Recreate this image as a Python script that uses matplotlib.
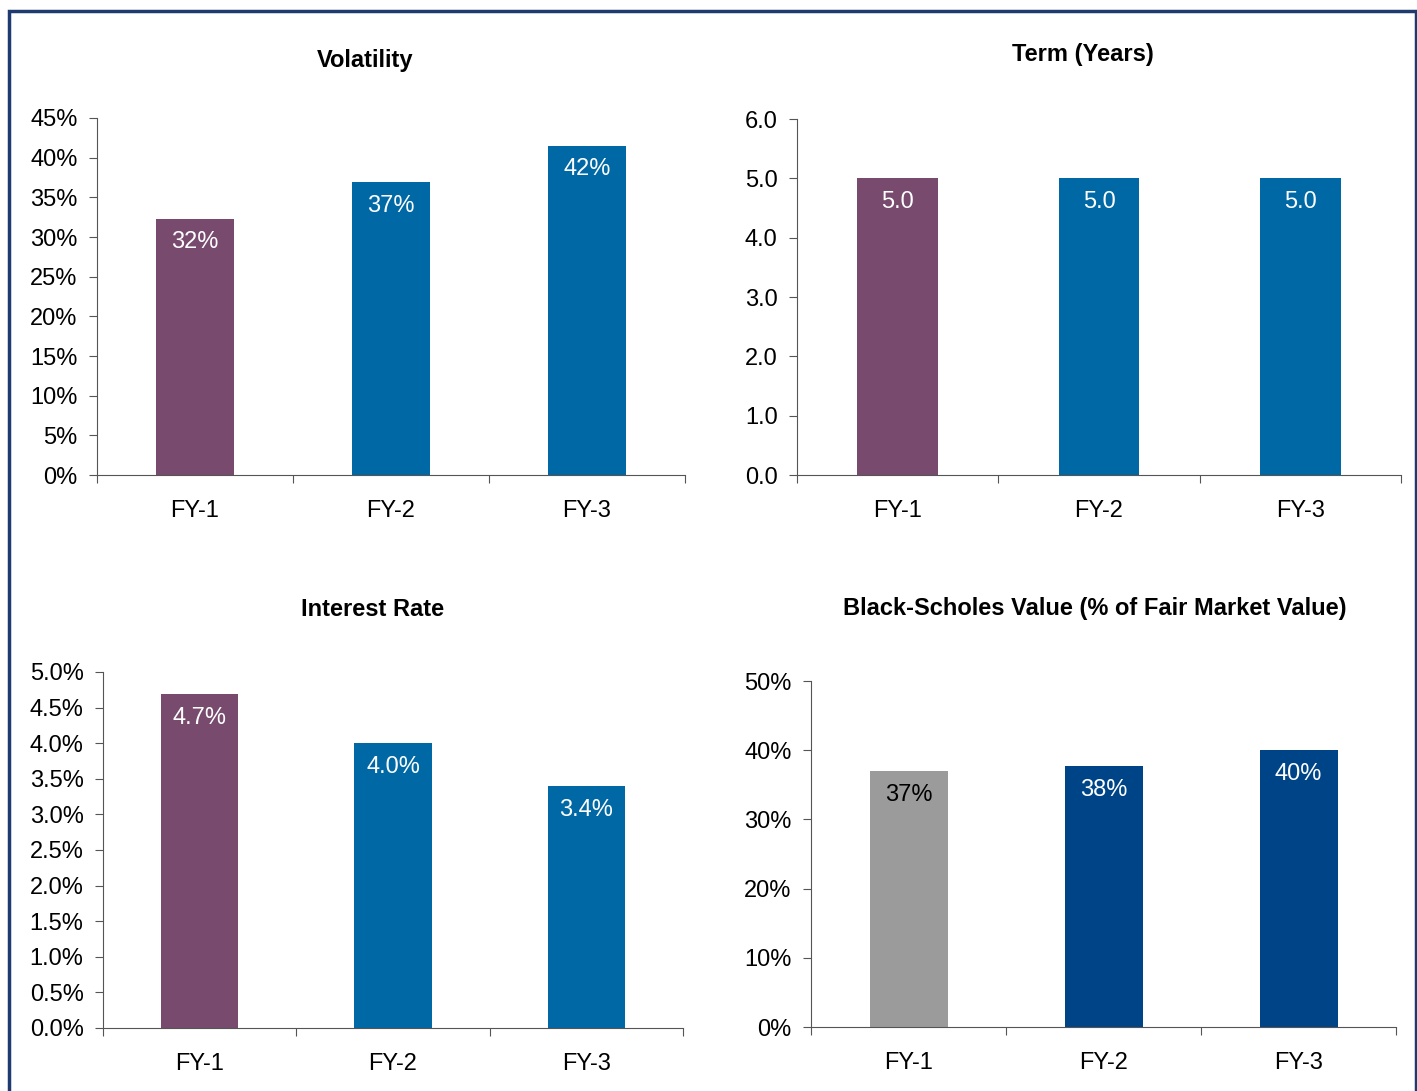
import matplotlib
matplotlib.use("Agg")
import matplotlib.pyplot as plt
from matplotlib.patches import Rectangle

plt.rcParams['font.family'] = ['Liberation Sans', 'DejaVu Sans']

years = ['FY-1', 'FY-2', 'FY-3']
volatility = [32.3, 36.9, 41.5]
volatility_lbl = ['32%', '37%', '42%']
term = [5.0, 5.0, 5.0]
term_lbl = ['5.0', '5.0', '5.0']
interest = [4.69, 4.0, 3.4]
interest_lbl = ['4.7%', '4.0%', '3.4%']
bs_value = [37.0, 37.7, 40.0]
bs_lbl = ['37%', '38%', '40%']

purple = '#774A6E'
blue = '#0068A5'
grey = '#9B9B9B'
navy = '#004488'

W, H = 1417, 1091
fig = plt.figure(figsize=(W / 100, H / 100), dpi=100)
FS = 17

def box(x0, y0, x1, y1):
    # pixel box -> figure fraction
    return [x0 / W, 1 - y1 / H, (x1 - x0) / W, (y1 - y0) / H]

def panel(rect, vals, lbls, colors, txtcols, ymax, step, fmt, title, tpos):
    ax = fig.add_axes(box(*rect))
    x = range(len(vals))
    ax.bar(x, vals, width=0.4, color=colors)
    for i, v in enumerate(vals):
        ax.annotate(lbls[i], (i, v), xytext=(0, -17), textcoords='offset points',
                    ha='center', va='center', fontsize=FS, color=txtcols[i])
    ax.set_xlim(-0.5, len(vals) - 0.5)
    ax.set_ylim(0, ymax)
    n = int(round(ymax / step))
    ticks = [k * step for k in range(n + 1)]
    ax.set_yticks(ticks)
    ax.set_yticklabels([fmt(t) for t in ticks], fontsize=FS)
    ax.set_xticks([i - 0.5 for i in range(len(vals) + 1)])
    ax.set_xticklabels([])
    ax.set_xticks(list(x), minor=True)
    ax.set_xticklabels(years, minor=True, fontsize=FS)
    ax.tick_params(axis='x', which='minor', length=0, pad=18)
    ax.tick_params(axis='x', which='major', length=6, color='#555555')
    ax.tick_params(axis='y', length=6, color='#555555', pad=8)
    for s in ['top', 'right']:
        ax.spines[s].set_visible(False)
    for s in ['left', 'bottom']:
        ax.spines[s].set_color('#555555')
    fig.text(tpos[0] / W, 1 - tpos[1] / H, title, ha='center', va='center',
             fontsize=FS, fontweight='bold')
    return ax

panel((97, 118, 685, 475), volatility, volatility_lbl, [purple, blue, blue],
      ['white'] * 3, 45, 5, lambda t: '%d%%' % t, 'Volatility', (365, 61))
panel((797, 119, 1401, 475), term, term_lbl, [purple, blue, blue],
      ['white'] * 3, 6, 1, lambda t: '%.1f' % t, 'Term (Years)', (1083, 55))
panel((103, 672, 683, 1028), interest, interest_lbl, [purple, blue, blue],
      ['white'] * 3, 5, 0.5, lambda t: '%.1f%%' % t, 'Interest Rate', (373, 609))
panel((811, 681, 1396, 1027), bs_value, bs_lbl, [grey, navy, navy],
      ['black', 'white', 'white'], 50, 10, lambda t: '%d%%' % t,
      'Black-Scholes Value (% of Fair Market Value)', (1095, 609))

# outer frame
fig.patches.append(Rectangle((9 / W, -0.01), (1407 / W), 1 - 11 / H + 0.01,
                             transform=fig.transFigure, fill=False,
                             edgecolor='#1F3A6E', linewidth=2.5))

fig.savefig('out.png', dpi=100)
